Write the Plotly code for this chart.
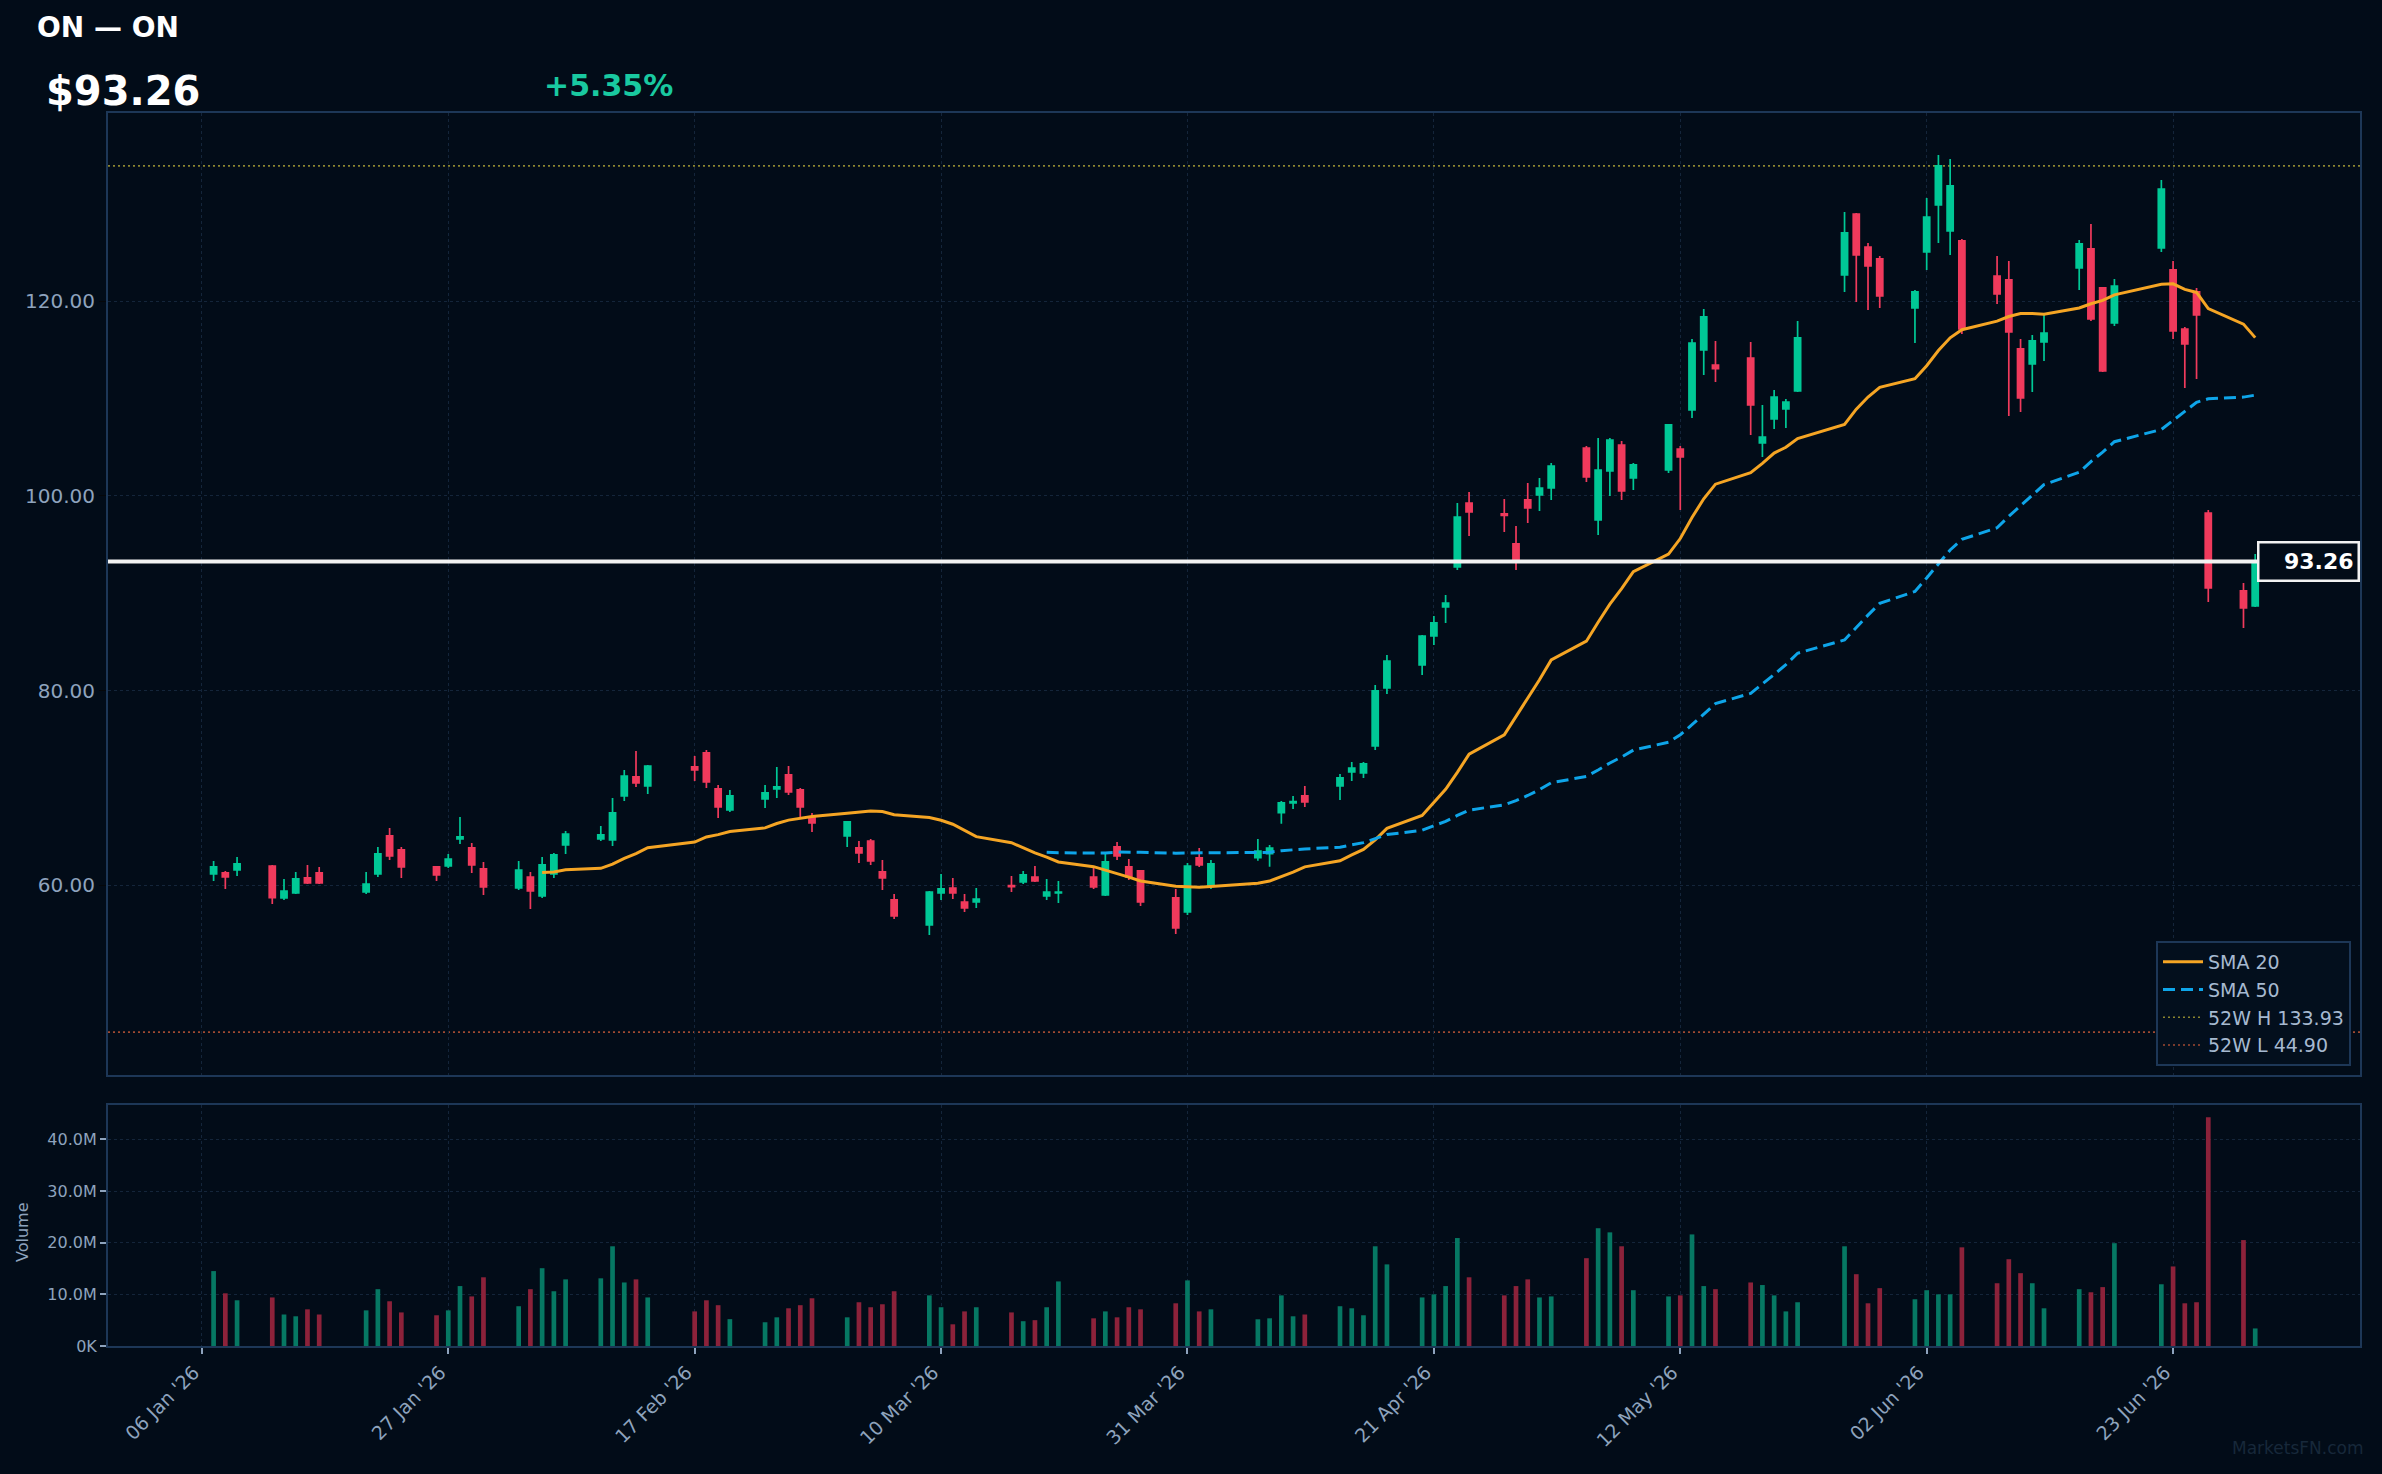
import pandas as pd
import plotly.graph_objects as go

# ---------------- data ----------------
TICKER = "ON"
HOLIDAYS = ["2026-01-19", "2026-02-16", "2026-04-03", "2026-05-25", "2026-06-19"]
dates = pd.bdate_range("2026-01-07", "2026-06-30", freq="C", holidays=HOLIDAYS)

open_ = [61.15, 61.26, 61.56, 61.97, 58.69, 59.20, 60.74, 61.26, 59.30, 61.15,
         65.06, 63.62, 61.87, 61.97, 64.75, 63.83, 61.67, 59.71, 60.84, 58.89,
         61.15, 64.13, 64.75, 64.65, 69.17, 71.12, 70.20, 72.15, 73.59, 69.89,
         67.73, 68.86, 69.89, 71.33, 69.79, 67.01, 65.06, 63.83, 64.54, 61.36,
         58.48, 55.91, 59.20, 59.71, 58.27, 58.27, 59.95, 60.33, 60.84, 58.89,
         59.20, 60.84, 58.99, 63.93, 61.87, 61.46, 58.69, 57.25, 62.80, 59.92,
         62.83, 63.24, 67.45, 68.45, 69.17, 70.19, 71.63, 71.53, 74.31, 80.27,
         82.63, 85.61, 88.59, 92.70, 99.28, 98.15, 95.07, 99.59, 100.10, 100.82,
         104.93, 97.53, 102.57, 105.24, 101.85, 102.67, 104.83, 108.84, 115.00, 113.46,
         114.18, 105.45, 107.91, 108.94, 110.79, 122.71, 128.98, 125.59, 124.36, 119.32,
         125.08, 129.91, 127.24, 126.21, 122.61, 122.20, 115.11, 113.57, 115.83, 123.43,
         125.39, 121.38, 117.78, 125.49, 123.23, 117.16, 120.97, 98.25, 90.24, 88.70]
high = [62.49, 61.46, 62.90, 62.08, 60.64, 61.36, 62.08, 61.87, 61.36, 63.93,
        65.88, 63.93, 61.97, 63.21, 67.01, 64.34, 62.39, 62.49, 61.36, 62.90,
        63.31, 65.57, 66.09, 68.96, 71.84, 73.79, 72.36, 73.28, 73.90, 70.30,
        69.79, 70.30, 72.15, 72.25, 69.99, 67.42, 66.60, 64.54, 64.75, 62.59,
        59.10, 59.41, 61.15, 60.74, 59.10, 59.71, 60.95, 61.46, 61.97, 60.64,
        60.43, 61.87, 63.31, 64.44, 62.69, 61.56, 59.61, 62.28, 63.83, 62.59,
        64.75, 64.13, 68.65, 69.17, 70.19, 71.43, 72.66, 72.66, 80.58, 83.66,
        85.71, 87.67, 89.83, 99.28, 100.41, 99.69, 96.92, 101.34, 101.85, 103.39,
        105.14, 105.96, 105.96, 105.65, 103.39, 107.40, 105.14, 116.14, 119.22, 115.93,
        115.83, 109.35, 110.89, 109.97, 117.98, 129.19, 129.09, 126.00, 124.67, 121.17,
        130.63, 135.05, 134.64, 126.41, 124.67, 124.15, 116.14, 116.55, 118.70, 126.31,
        127.95, 121.38, 122.30, 132.48, 124.15, 117.37, 121.38, 98.56, 91.06, 94.04]
low = [60.43, 59.61, 60.95, 58.07, 58.48, 59.10, 60.12, 60.12, 59.10, 60.84,
       62.59, 60.74, 60.43, 61.77, 64.24, 61.26, 58.99, 59.51, 57.56, 58.69,
       60.74, 63.21, 64.54, 64.03, 68.66, 70.10, 69.37, 70.71, 69.99, 66.91,
       67.52, 67.94, 68.96, 69.27, 67.01, 65.47, 63.93, 62.28, 62.08, 59.51,
       56.53, 54.88, 58.48, 58.58, 57.25, 57.66, 59.30, 60.12, 60.33, 58.48,
       58.17, 59.61, 58.89, 62.59, 60.54, 57.86, 54.99, 56.94, 61.87, 59.61,
       62.52, 61.90, 66.32, 67.83, 68.04, 68.76, 70.71, 71.02, 73.89, 79.65,
       81.60, 84.69, 86.95, 92.39, 95.89, 96.30, 92.39, 97.22, 98.46, 99.59,
       101.44, 95.99, 100.00, 99.59, 100.62, 102.36, 98.56, 108.02, 112.44, 111.72,
       106.27, 104.01, 106.89, 106.99, 110.69, 120.97, 119.94, 119.12, 119.32, 115.72,
       123.23, 126.00, 124.77, 116.65, 119.73, 108.22, 108.63, 110.69, 113.87, 121.17,
       117.99, 112.74, 117.47, 125.08, 116.14, 111.10, 112.02, 89.10, 86.43, 88.60]
close = [61.87, 60.84, 62.18, 58.72, 59.40, 60.64, 60.23, 60.23, 60.12, 63.21,
         63.00, 61.87, 61.05, 62.69, 64.96, 62.08, 59.82, 61.56, 59.41, 62.08,
         63.11, 65.26, 65.16, 67.42, 71.22, 70.51, 72.25, 71.84, 70.61, 68.04,
         69.17, 69.48, 70.10, 69.58, 68.04, 66.39, 66.50, 63.31, 62.49, 60.74,
         56.84, 59.30, 59.61, 59.20, 57.66, 58.58, 59.85, 61.05, 60.43, 59.30,
         59.30, 59.82, 62.39, 63.00, 60.84, 58.27, 55.60, 61.97, 62.08, 62.18,
         63.51, 63.82, 68.45, 68.58, 68.55, 71.02, 72.04, 72.46, 79.96, 83.04,
         85.61, 86.95, 89.00, 97.84, 98.36, 98.01, 93.20, 98.77, 100.82, 103.08,
         101.95, 102.67, 105.75, 100.51, 103.19, 107.30, 104.01, 115.72, 118.40, 113.09,
         109.35, 106.06, 110.17, 109.66, 116.24, 127.03, 124.77, 123.64, 120.55, 120.97,
         128.67, 133.93, 131.86, 117.16, 120.76, 116.85, 110.07, 115.93, 116.75, 125.90,
         118.19, 112.85, 121.58, 131.55, 116.96, 115.62, 118.60, 90.54, 88.49, 93.26]
volume_m = [14.5, 10.2, 8.85, 9.4, 6.1, 5.75, 7.1, 6.1, 6.9, 11.0,
            8.66, 6.5, 5.95, 6.9, 11.6, 9.6, 13.3, 7.7, 11.0, 15.06,
            10.6, 12.9, 13.1, 19.3, 12.3, 12.9, 9.4, 6.7, 8.85, 7.9,
            5.2, 4.6, 5.55, 7.3, 7.9, 9.24, 5.55, 8.47, 7.5, 8.08,
            10.6, 9.8, 7.5, 4.2, 6.7, 7.5, 6.5, 4.8, 5.0, 7.5,
            12.5, 5.36, 6.7, 5.55, 7.5, 7.1, 8.27, 12.7, 6.7, 7.1,
            5.17, 5.36, 9.8, 5.75, 6.1, 7.7, 7.3, 5.95, 19.3, 15.8,
            9.4, 10.0, 11.6, 20.9, 13.3, 9.8, 11.6, 12.9, 9.4, 9.6,
            17.0, 22.8, 22.0, 19.3, 10.8, 9.6, 9.8, 21.6, 11.6, 11.0,
            12.3, 11.8, 9.8, 6.7, 8.47, 19.3, 13.9, 8.27, 11.2, 9.05,
            10.8, 10.0, 10.0, 19.1, 12.15, 16.8, 14.1, 12.15, 7.3, 11.0,
            10.4, 11.4, 19.9, 11.95, 15.4, 8.27, 8.47, 44.3, 20.5, 3.4]
HIGH_52W = 133.93
LOW_52W = 44.90
PCT_CHANGE = 5.35

tick_dates = ["2026-01-06", "2026-01-27", "2026-02-17", "2026-03-10", "2026-03-31",
              "2026-04-21", "2026-05-12", "2026-06-02", "2026-06-23"]
tick_labels = ["06 Jan '26", "27 Jan '26", "17 Feb '26", "10 Mar '26", "31 Mar '26",
               "21 Apr '26", "12 May '26", "02 Jun '26", "23 Jun '26"]
vol_tickvals = [0, 10e6, 20e6, 30e6, 40e6]
vol_ticktext = ["0K", "10.0M", "20.0M", "30.0M", "40.0M"]

assert len(dates) == len(open_) == len(high) == len(low) == len(close) == len(volume_m)

# ---------------- styling ----------------
BG = "#020c18"
FRAME = "#1d3757"
GRID = "#14253a"
TICK = "#8ea3bd"
UP = "#00c896"
DOWN = "#f03a5c"
UP_VOL = "#067863"
DOWN_VOL = "#8c223a"
FONT = "DejaVu Sans"

close_s = pd.Series(close)
sma20 = close_s.rolling(20).mean()
sma50 = close_s.rolling(50).mean()
volume = [v * 1e6 for v in volume_m]
vol_colors = [UP_VOL if c >= o else DOWN_VOL for o, c in zip(open_, close)]
last = close[-1]

fig = go.Figure()
fig.add_trace(go.Candlestick(
    x=dates, open=open_, high=high, low=low, close=close,
    xaxis="x", yaxis="y", whiskerwidth=0,
    increasing=dict(line=dict(color=UP, width=1.7), fillcolor=UP),
    decreasing=dict(line=dict(color=DOWN, width=1.7), fillcolor=DOWN),
    showlegend=False, hoverinfo="skip"))
fig.add_trace(go.Scatter(x=dates, y=sma20, mode="lines", name="SMA 20",
                         line=dict(color="#f5a524", width=3), legendrank=1,
                         xaxis="x", yaxis="y"))
fig.add_trace(go.Scatter(x=dates, y=sma50, mode="lines", name="SMA 50",
                         line=dict(color="#0ea5e9", width=3, dash="12px,6px"),
                         legendrank=2, xaxis="x", yaxis="y"))
fig.add_trace(go.Bar(x=dates, y=volume, marker=dict(color=vol_colors, line=dict(width=0)),
                     width=0.4 * 86400000, xaxis="x2", yaxis="y2", showlegend=False,
                     hoverinfo="skip"))

shapes = [
    dict(type="line", xref="paper", x0=0, x1=1, yref="y", y0=HIGH_52W, y1=HIGH_52W,
         line=dict(color="#8c8530", width=1.6, dash="2px,3px"), layer="below",
         showlegend=True, name=f"52W H {HIGH_52W:.2f}", legendrank=3),
    dict(type="line", xref="paper", x0=0, x1=1, yref="y", y0=LOW_52W, y1=LOW_52W,
         line=dict(color="#a04a32", width=1.6, dash="2px,3px"), layer="below",
         showlegend=True, name=f"52W L {LOW_52W:.2f}", legendrank=4),
    dict(type="line", xref="paper", x0=0, x1=1, yref="y", y0=last, y1=last,
         line=dict(color="#f2f2f2", width=4), layer="above"),
]

W, H = 2382, 1474
ML, MR, MT, MB = 108, 22, 113, 128
PH = H - MT - MB
PW = W - ML - MR


def px_x(x):
    return (x - ML) / PW


def px_y(y):
    return (H - MB - y) / PH


annotations = [
    dict(text=f"<b>{TICKER} — {TICKER}</b>", xref="paper", yref="paper", x=px_x(35), y=px_y(27),
         xanchor="left", yanchor="middle", showarrow=False,
         font=dict(family=FONT, size=28, color="#ffffff")),
    dict(text=f"<b>${last:.2f}</b>", xref="paper", yref="paper", x=px_x(44), y=px_y(91),
         xanchor="left", yanchor="middle", showarrow=False,
         font=dict(family=FONT, size=40, color="#ffffff")),
    dict(text=f"<b>+{PCT_CHANGE:.2f}%</b>", xref="paper", yref="paper", x=px_x(542), y=px_y(86),
         xanchor="left", yanchor="middle", showarrow=False,
         font=dict(family=FONT, size=30, color="#19c9a0")),
    dict(text=f"<b>{last:.2f}</b>", xref="paper", yref="y", x=1, y=last,
         xanchor="right", yanchor="middle", showarrow=False, align="right",
         width=90, height=28, borderpad=4, bgcolor=BG, bordercolor="#f2f2f2", borderwidth=2.5,
         font=dict(family=FONT, size=22, color="#ffffff")),
    dict(text="Volume", xref="paper", yref="paper", x=px_x(22), y=px_y(1232),
         xanchor="center", yanchor="middle", showarrow=False, textangle=-90,
         font=dict(family=FONT, size=16, color=TICK)),
    dict(text="MarketsFN.com", xref="paper", yref="paper", x=px_x(2366), y=px_y(1448),
         xanchor="right", yanchor="middle", showarrow=False,
         font=dict(family=FONT, size=17, color="#17283a")),
]

xrange_ = ["2025-12-29 00:00", "2026-07-08 22:20"]
common_x = dict(type="date", range=xrange_, tickvals=tick_dates, ticktext=tick_labels,
                showgrid=True, gridcolor=GRID, griddash="dot", gridwidth=1,
                showline=True, mirror=True, linecolor=FRAME, linewidth=2, zeroline=False)

fig.update_layout(
    width=W, height=H,
    margin=dict(l=ML, r=MR, t=MT, b=MB, autoexpand=False),
    paper_bgcolor=BG, plot_bgcolor=BG,
    font=dict(family=FONT, color=TICK),
    boxgap=0.48, boxgroupgap=0,
    xaxis=dict(domain=[0, 1], anchor="y", showticklabels=False, ticks="",
               rangeslider=dict(visible=False), **common_x),
    xaxis2=dict(domain=[0, 1], anchor="y2", matches="x", showticklabels=True,
                tickangle=-45, tickfont=dict(size=19, color=TICK), ticklabelshift=-8,
                ticks="outside", ticklen=6, tickwidth=2, tickcolor=TICK, **common_x),
    yaxis=dict(domain=[px_y(1075), 1], anchor="x", range=[40.49, 139.36],
               tick0=0, dtick=20, tickformat=".2f", tickfont=dict(size=20, color=TICK),
               ticks="outside", ticklen=7, tickcolor="#05070a",
               showgrid=True, gridcolor=GRID, griddash="dot", zeroline=False,
               showline=True, mirror=True, linecolor=FRAME, linewidth=2),
    yaxis2=dict(domain=[0, px_y(1105)], anchor="x2", range=[0, 46.65e6],
                tickvals=vol_tickvals, ticktext=vol_ticktext,
                tickfont=dict(size=16, color=TICK),
                ticks="outside", ticklen=6, tickwidth=2, tickcolor=TICK,
                showgrid=True, gridcolor=GRID, griddash="dot", zeroline=False,
                showline=True, mirror=True, linecolor=FRAME, linewidth=2),
    legend=dict(x=px_x(2351), y=px_y(1066), xanchor="right", yanchor="bottom",
                bgcolor="#030f1d", bordercolor=FRAME, borderwidth=2,
                font=dict(family=FONT, size=19, color="#a6b9d0"),
                itemwidth=40, traceorder="normal"),
    shapes=shapes,
    annotations=annotations,
    showlegend=True,
    hovermode=False,
)

fig.write_html("out.html")
